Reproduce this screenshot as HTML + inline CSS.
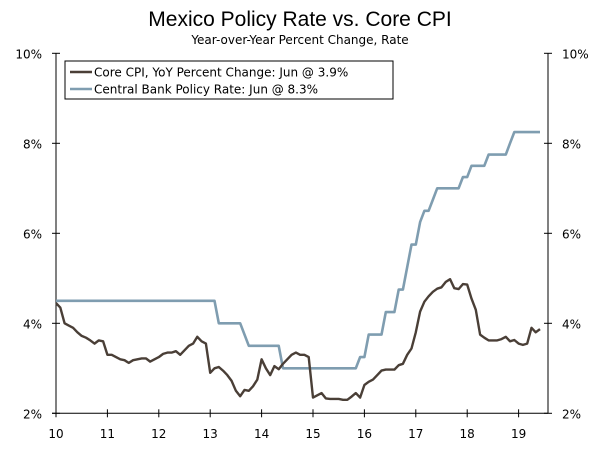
<!DOCTYPE html>
<html><head><meta charset="utf-8">
<style>
body{margin:0;background:#fff;}
svg text{font-family:"Liberation Sans","DejaVu Sans",sans-serif;fill:#000;}
svg text.dv{font-family:"DejaVu Sans","Liberation Sans",sans-serif;}
</style></head>
<body>
<svg id="chart" width="600" height="448" viewBox="0 0 600 448" xmlns="http://www.w3.org/2000/svg">
<text x="300" y="26" font-size="21" text-anchor="middle">Mexico Policy Rate vs. Core CPI</text>
<text class="dv" x="300" y="44" font-size="12" text-anchor="middle">Year-over-Year Percent Change, Rate</text>
<g id="axes"></g>
<g id="series"></g>
<g>
<rect x="65" y="61" width="328" height="38" fill="#fff" stroke="#000" stroke-width="1"/>
<line x1="70" y1="72" x2="92" y2="72" stroke="#4a3f37" stroke-width="2.5"/>
<text class="dv" x="94" y="76.5" font-size="12">Core CPI, YoY Percent Change: Jun @ 3.9%</text>
<line x1="70" y1="89" x2="92" y2="89" stroke="#7f9db0" stroke-width="2.5"/>
<text class="dv" x="94" y="93.5" font-size="12">Central Bank Policy Rate: Jun @ 8.3%</text>
</g>
</svg>
<script>
const yearLabels = ["10","11","12","13","14","15","16","17","18","19"];
const yTicks = [2,4,6,8,10];
const startYear = 2010;
const coreCPI = [
4.45,4.35,4.0,3.95,3.9,3.8,3.72,3.68,3.62,3.55,3.62,3.6,
3.3,3.3,3.25,3.2,3.18,3.12,3.18,3.2,3.22,3.22,3.15,3.2,
3.25,3.32,3.35,3.35,3.38,3.3,3.4,3.5,3.55,3.7,3.6,3.55,
2.9,3.0,3.03,2.95,2.85,2.72,2.5,2.38,2.52,2.5,2.6,2.75,
3.2,3.0,2.85,3.05,2.98,3.1,3.2,3.3,3.35,3.3,3.3,3.25,
2.35,2.4,2.45,2.33,2.32,2.32,2.32,2.3,2.3,2.37,2.45,2.35,
2.63,2.7,2.75,2.85,2.95,2.97,2.97,2.97,3.07,3.1,3.3,3.44,
3.8,4.26,4.48,4.6,4.7,4.77,4.8,4.92,4.98,4.78,4.76,4.87,
4.86,4.55,4.3,3.75,3.68,3.62,3.62,3.62,3.65,3.7,3.6,3.63,
3.55,3.52,3.55,3.9,3.8,3.87];
const policyRate = [
4.5,4.5,4.5,4.5,4.5,4.5,4.5,4.5,4.5,4.5,4.5,4.5,
4.5,4.5,4.5,4.5,4.5,4.5,4.5,4.5,4.5,4.5,4.5,4.5,
4.5,4.5,4.5,4.5,4.5,4.5,4.5,4.5,4.5,4.5,4.5,4.5,
4.5,4.5,4.0,4.0,4.0,4.0,4.0,4.0,3.75,3.5,3.5,3.5,
3.5,3.5,3.5,3.5,3.5,3.0,3.0,3.0,3.0,3.0,3.0,3.0,
3.0,3.0,3.0,3.0,3.0,3.0,3.0,3.0,3.0,3.0,3.0,3.25,
3.25,3.75,3.75,3.75,3.75,4.25,4.25,4.25,4.75,4.75,5.25,5.75,
5.75,6.25,6.5,6.5,6.75,7.0,7.0,7.0,7.0,7.0,7.0,7.25,
7.25,7.5,7.5,7.5,7.5,7.75,7.75,7.75,7.75,7.75,8.0,8.25,
8.25,8.25,8.25,8.25,8.25,8.25];

const X0=56, PX_YEAR=51.4, Y2=413.3, PX_PCT=45, XR=548;
const xScale = t => X0 + t*PX_YEAR;
const yScale = v => Y2 - (v-2)*PX_PCT;
const NS="http://www.w3.org/2000/svg";
const axes=document.getElementById('axes'), series=document.getElementById('series');
function mk(tag,attrs,parent){const e=document.createElementNS(NS,tag);for(const k in attrs)e.setAttribute(k,attrs[k]);parent.appendChild(e);return e;}

let e=mk('line',{x1:X0,y1:yScale(10),x2:X0,y2:Y2,stroke:'#000','stroke-width':1},axes);


e=mk('line',{x1:XR,y1:yScale(10),x2:XR,y2:Y2,stroke:'#000','stroke-width':1},axes);


e=mk('line',{x1:X0-4,y1:Y2,x2:XR,y2:Y2,stroke:'#000','stroke-width':1},axes);



yTicks.forEach(v=>{
  const y=yScale(v);
  let t=mk('line',{x1:X0-4,y1:y,x2:X0+4,y2:y,stroke:'#000'},axes);
  
  
  t=mk('line',{x1:XR-4,y1:y,x2:XR+4,y2:y,stroke:'#000'},axes);
  
  
  let l=mk('text',{x:X0-14,y:y+5,'font-size':12,'text-anchor':'end','class':'dv'},axes);
  l.textContent=v+'%';
  
  
  l=mk('text',{x:XR+14,y:y+5,'font-size':12,'text-anchor':'start','class':'dv'},axes);
  l.textContent=v+'%';
  
  
});
yearLabels.forEach((lab,i)=>{
  const x=xScale(i);
  let t=mk('line',{x1:x,y1:Y2-4,x2:x,y2:Y2+4,stroke:'#000'},axes);
  
  
  let l=mk('text',{x:x,y:438,'font-size':12,'text-anchor':'middle','class':'dv'},axes);
  l.textContent=lab;
  
  
});
function path(arr){return arr.map((v,i)=>(i?'L':'M')+xScale(i/12).toFixed(1)+','+yScale(v).toFixed(1)).join(' ');}
let p=mk('path',{d:path(policyRate),fill:'none',stroke:'#7f9db0','stroke-width':2.6,'stroke-linejoin':'round'},series);


p=mk('path',{d:path(coreCPI),fill:'none',stroke:'#4a3f37','stroke-width':2.4,'stroke-linejoin':'round'},series);


</script>
</body></html>
